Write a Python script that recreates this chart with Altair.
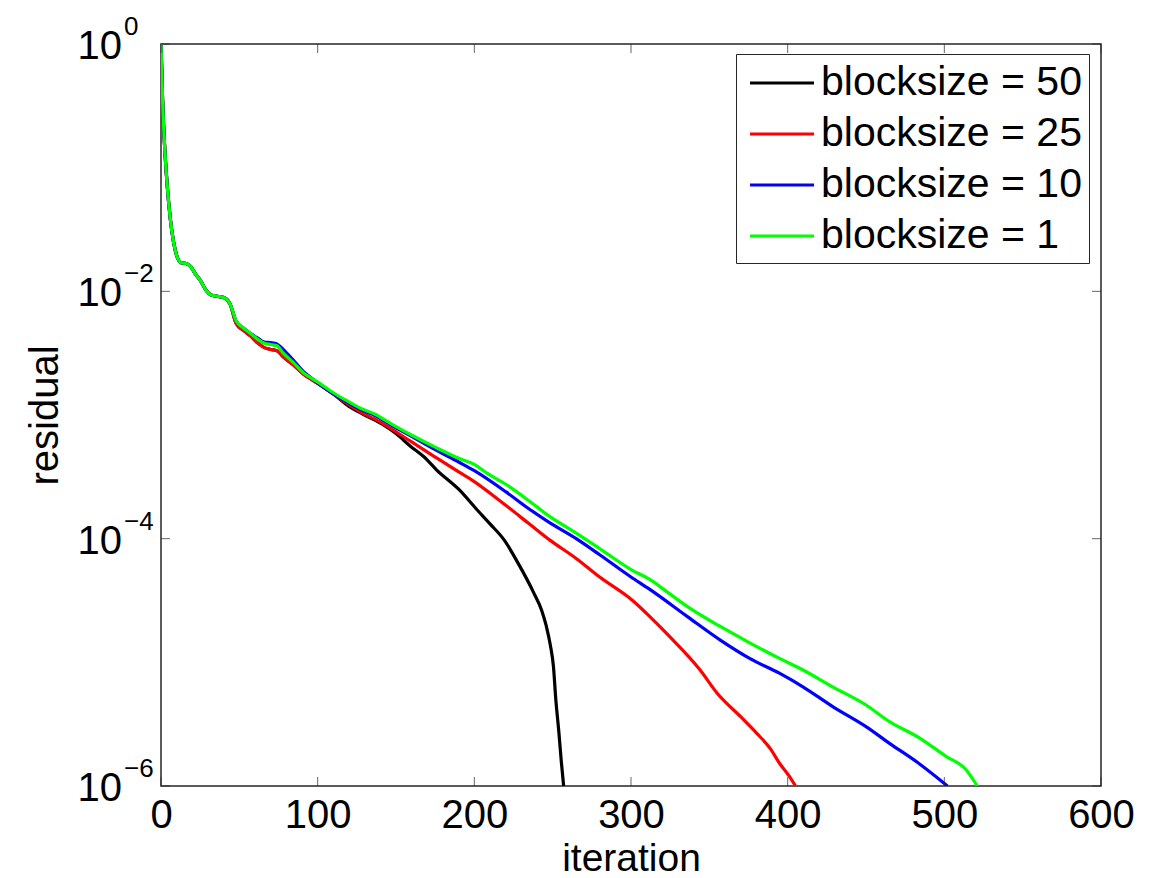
import altair as alt
import pandas as pd

FONT = "Liberation Sans"

# ---- data: iteration and log10(residual) ----
bs50_iter = [0, 1, 2, 4, 6, 8, 10, 13, 16, 19, 22, 25, 29, 32, 36, 40, 44, 48, 53, 57, 62, 66, 70, 74,
             78, 84, 91, 97, 102, 110, 120, 130, 142, 150, 159, 168, 176, 190, 202, 210, 219, 228,
             238, 243, 246, 248.5, 250.5, 252, 254, 255.5, 257]
bs50_log = [0, -0.45, -0.75, -1.15, -1.42, -1.6, -1.71, -1.77, -1.775, -1.80, -1.86, -1.91, -1.995,
            -2.03, -2.04, -2.05, -2.10, -2.26, -2.32, -2.36, -2.42, -2.455, -2.47, -2.48,
            -2.53, -2.59, -2.67, -2.72, -2.76, -2.83, -2.93, -3.00, -3.08, -3.15, -3.25, -3.34,
            -3.445, -3.60, -3.77, -3.88, -4.01, -4.20, -4.44, -4.58, -4.71, -4.86, -5.035, -5.30,
            -5.57, -5.80, -6.0]

bs25_iter = [0, 1, 2, 4, 6, 8, 10, 13, 16, 19, 22, 25, 29, 32, 36, 40, 44, 48, 53, 57, 62, 66, 70, 74,
             78, 84, 91, 97, 102, 110, 118, 128, 136, 148, 159, 175, 190, 199, 220, 235, 248, 265,
             280, 301, 312, 323, 344, 355, 370, 380, 389, 395, 401, 405]
bs25_log = [0, -0.45, -0.75, -1.15, -1.42, -1.6, -1.71, -1.77, -1.775, -1.80, -1.86, -1.91, -1.995,
            -2.03, -2.04, -2.05, -2.10, -2.26, -2.32, -2.36, -2.42, -2.455, -2.47, -2.48,
            -2.53, -2.59, -2.67, -2.72, -2.76, -2.83, -2.90, -2.98, -3.03, -3.12, -3.21, -3.34,
            -3.46, -3.53, -3.73, -3.88, -4.01, -4.16, -4.31, -4.50, -4.63, -4.77, -5.06, -5.25,
            -5.44, -5.57, -5.70, -5.82, -5.92, -6.0]

bs10_iter = [0, 1, 2, 4, 6, 8, 10, 13, 16, 19, 22, 25, 29, 32, 36, 40, 44, 48, 53, 57, 62, 66, 70, 74,
             78, 84, 91, 97, 102, 110, 118, 128, 136, 148, 161, 175, 190, 200, 220, 235, 248, 265,
             280, 300, 312, 336, 357, 376, 395, 410, 429, 450, 465, 484, 502]
bs10_log = [0, -0.45, -0.75, -1.15, -1.42, -1.6, -1.71, -1.77, -1.775, -1.80, -1.86, -1.91, -1.995,
            -2.03, -2.04, -2.05, -2.10, -2.24, -2.30, -2.34, -2.38, -2.41, -2.415, -2.425,
            -2.47, -2.55, -2.65, -2.71, -2.76, -2.83, -2.89, -2.96, -3.00, -3.09, -3.18, -3.28,
            -3.38, -3.45, -3.62, -3.76, -3.87, -4.00, -4.13, -4.31, -4.41, -4.63, -4.82, -4.97,
            -5.09, -5.20, -5.36, -5.52, -5.655, -5.82, -6.0]

bs1_iter = [0, 1, 2, 4, 6, 8, 10, 13, 16, 19, 22, 25, 29, 32, 36, 40, 44, 48, 53, 57, 62, 66, 70, 74,
            78, 84, 91, 97, 102, 110, 118, 128, 136, 148, 161, 175, 190, 200, 208, 220, 235, 248,
            265, 280, 300, 312, 323, 336, 357, 374, 395, 408, 429, 450, 465, 484, 501, 514, 521]
bs1_log = [0, -0.45, -0.75, -1.15, -1.42, -1.6, -1.71, -1.77, -1.775, -1.80, -1.86, -1.91, -1.995,
           -2.03, -2.04, -2.05, -2.10, -2.24, -2.30, -2.34, -2.39, -2.42, -2.43, -2.44,
           -2.50, -2.57, -2.66, -2.71, -2.75, -2.82, -2.88, -2.95, -2.99, -3.08, -3.17, -3.26,
           -3.35, -3.40, -3.47, -3.56, -3.695, -3.82, -3.955, -4.08, -4.25, -4.33, -4.43, -4.55,
           -4.71, -4.83, -4.97, -5.05, -5.20, -5.345, -5.48, -5.61, -5.76, -5.87, -6.0]

series_names = ["blocksize = 50", "blocksize = 25", "blocksize = 10", "blocksize = 1"]
series_colors = ["#000000", "#ff0000", "#0000ff", "#00ff00"]

x_ticks = [0, 100, 200, 300, 400, 500, 600]
y_ticks = [1, 1e-2, 1e-4, 1e-6]
y_base = ["10", "10", "10", "10"]
y_exp = ["0", "\u22122", "\u22124", "\u22126"]

# ---- build table ----
frames = []
for name, it, lg in zip(series_names,
                        [bs50_iter, bs25_iter, bs10_iter, bs1_iter],
                        [bs50_log, bs25_log, bs10_log, bs1_log]):
    frames.append(pd.DataFrame({"iteration": it,
                                "residual": [10 ** v for v in lg],
                                "series": name}))
df = pd.concat(frames, ignore_index=True)

W, H = 940, 742
AX = "#262626"

xs = alt.Scale(domain=[0, 600], nice=False, zero=False)
ys = alt.Scale(type="log", domain=[1e-6, 1], nice=False)

x_axis = alt.Axis(values=x_ticks, ticks=False, tickSize=0, domain=False, grid=False,
                  labelFont=FONT, labelFontSize=40, labelColor="black",
                  labelBaseline="alphabetic", labelPadding=41, labelFlush=False,
                  labelOverlap=False, labelBound=False, format="d",
                  title="iteration", titleFont=FONT, titleFontSize=39,
                  titleFontWeight="normal", titleColor="black",
                  titleBaseline="alphabetic", titleX=W / 2, titleY=84)
y_axis = alt.Axis(values=y_ticks, labels=False, ticks=False, domain=False, grid=False,
                  title="residual", titleFont=FONT, titleFontSize=40,
                  titleFontWeight="normal", titleColor="black",
                  titleBaseline="alphabetic", titleX=-104, titleY=H / 2)

# legend symbol: a horizontal stroke of 64 px inside a 41 px symbol cell
legend_line = "M-1.561,0H1.561"

lines = alt.Chart(df).mark_line(strokeWidth=3.2, clip=True, strokeJoin="round",
                                interpolate="monotone").encode(
    x=alt.X("iteration:Q", scale=xs, axis=x_axis),
    y=alt.Y("residual:Q", scale=ys, axis=y_axis),
    color=alt.Color("series:N",
                    scale=alt.Scale(domain=series_names, range=series_colors),
                    legend=alt.Legend(title=None, orient="none", legendX=575, legendY=10,
                                      direction="vertical", strokeColor=AX, fillColor="white",
                                      padding=7, labelFont=FONT, labelFontSize=41,
                                      labelColor="black", labelLimit=500,
                                      symbolType=legend_line, symbolSize=1681,
                                      symbolStrokeWidth=3, symbolOffset=17,
                                      rowPadding=9, labelOffset=17)),
)

xt = pd.DataFrame({"v": x_ticks})
yt = pd.DataFrame({"v": y_ticks, "base": y_base, "exp": y_exp})

xtick_bottom = alt.Chart(xt).mark_tick(size=9, thickness=1, color=AX, orient="vertical").encode(
    x=alt.X("v:Q", scale=xs, axis=x_axis), y=alt.value(H - 4.5))
xtick_top = alt.Chart(xt).mark_tick(size=9, thickness=1, color=AX, orient="vertical").encode(
    x=alt.X("v:Q", scale=xs, axis=x_axis), y=alt.value(4.5))
ytick_left = alt.Chart(yt).mark_tick(size=9, thickness=1, color=AX, orient="horizontal").encode(
    y=alt.Y("v:Q", scale=ys, axis=y_axis), x=alt.value(4.5))
ytick_right = alt.Chart(yt).mark_tick(size=9, thickness=1, color=AX, orient="horizontal").encode(
    y=alt.Y("v:Q", scale=ys, axis=y_axis), x=alt.value(W - 4.5))

ylab_base = alt.Chart(yt).mark_text(align="right", baseline="alphabetic", dy=15, font=FONT,
                                    fontSize=40, color="black").encode(
    y=alt.Y("v:Q", scale=ys, axis=y_axis), x=alt.value(-39), text="base:N")
ylab_exp = alt.Chart(yt).mark_text(align="left", baseline="alphabetic", dy=-9, font=FONT,
                                   fontSize=26, color="black").encode(
    y=alt.Y("v:Q", scale=ys, axis=y_axis), x=alt.value(-37), text="exp:N")

chart = alt.layer(lines, xtick_bottom, xtick_top, ytick_left, ytick_right,
                  ylab_base, ylab_exp).properties(
    width=W, height=H,
    autosize=alt.AutoSizeParams(type="none"),
    padding={"left": 161, "top": 44, "right": 53, "bottom": 92},
    background="white",
).configure_view(stroke=AX, strokeWidth=1.5)

chart.save("out.html", embed_options={"renderer": "svg", "actions": False})
